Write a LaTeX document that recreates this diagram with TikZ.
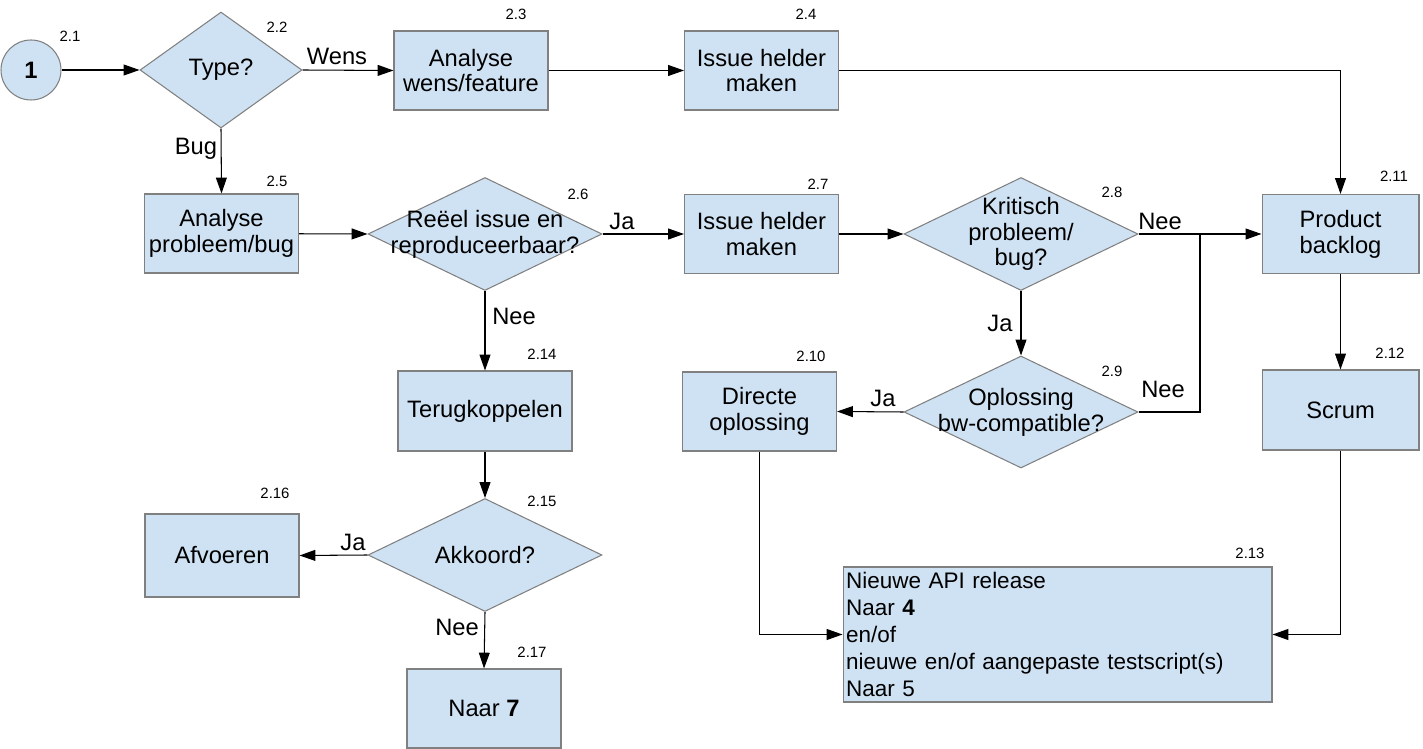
\documentclass[tikz,border=0pt]{standalone}
\usepackage{fontspec}
\setmainfont{Liberation Sans}
\usetikzlibrary{shapes.geometric}
\usetikzlibrary{arrows.meta}
\definecolor{vakblauw}{RGB}{207,226,243}
\definecolor{vakrand}{RGB}{128,128,128}

\begin{document}
\begin{tikzpicture}[x=0.02cm,y=-0.02cm,
  vak/.style={rectangle,draw=vakrand,fill=vakblauw,line width=0.6pt,minimum width=3.08cm,minimum height=1.58cm,align=center,inner sep=1pt,font=\fontsize{13.5}{14.7}\selectfont},
  keuze/.style={diamond,draw=vakrand,fill=vakblauw,line width=0.6pt,inner sep=0pt,minimum width=4.68cm,minimum height=2.26cm},
  vraag/.style={align=center,font=\fontsize{13.5}{14.7}\selectfont},
  nr/.style={font=\fontsize{8.5}{10}\selectfont,anchor=base},
  antw/.style={font=\fontsize{13.5}{14.7}\selectfont,anchor=base},
  pijl/.style={line width=0.6pt,-{Triangle[length=9pt,width=6.2pt]}},
  lijn/.style={line width=0.6pt}]
\useasboundingbox (0,0) rectangle (1423,749);

% start en wens/feature
\node[circle,draw=vakrand,fill=vakblauw,line width=0.6pt,minimum size=1.2cm,inner sep=0pt,font=\fontsize{13.5}{14.7}\selectfont\bfseries] (start) at (31,70) {1};
\node[keuze,minimum width=3.24cm,minimum height=2.32cm] (type) at (221,70) {};
\node[vraag] at (type.center) {Type?};
\node[vak] (anawens) at (471,70.5) {Analyse\\wens/feature};
\node[vak] (helder1) at (761.5,70.5) {Issue helder\\maken};

% bug
\node[vak] (anabug) at (221.5,233.5) {Analyse\\probleem/bug};
\node[keuze] (reeel) at (485,234) {};
\node[vraag] at (reeel.center) {Reëel issue en\\reproduceerbaar?};
\node[vak] (helder2) at (761.5,234) {Issue helder\\maken};
\node[keuze] (kritisch) at (1021,234) {};
\node[vraag] at (kritisch.center) {Kritisch\\probleem/\\bug?};
\node[keuze,minimum height=2.24cm] (compat) at (1021,412) {};
\node[vraag] at (compat.center) {Oplossing\\bw-compatible?};
\node[vak] (direct) at (759.5,411.5) {Directe\\oplossing};
\node[vak,minimum width=3.14cm] (backlog) at (1340.5,234) {Product\\backlog};
\node[vak,minimum width=3.14cm,minimum height=1.6cm] (scrum) at (1340.5,410) {Scrum};
\node[vak,text width=8.46cm,minimum height=2.7cm,inner sep=0.06cm,align=left,font=\fontsize{12.8}{15.3}\selectfont] (release) at (1057.5,634.5) {%
  Nieuwe API release\\Naar \textbf{4}\\en/of\\nieuwe en/of aangepaste testscript(s)\\Naar 5};

% terugkoppelen
\node[vak,minimum width=3.48cm,minimum height=1.6cm] (terug) at (485,411) {Terugkoppelen};
\node[keuze] (akkoord) at (485,555) {};
\node[vraag] at (akkoord.center) {Akkoord?};
\node[vak,minimum height=1.66cm] (afvoer) at (222,555.5) {Afvoeren};
\node[vak] (naar7) at (484,708.5) {Naar \textbf{7}};

\coordinate (samen) at (1200,234);

% verbindingen
\draw[pijl] (start) -- (type);
\draw[pijl] (type.east) -- (anawens.west);
\draw[pijl] (anawens) -- (helder1);
\draw[pijl] (helder1.east) -| (backlog.north);
\draw[pijl] (type.south) -- (anabug.north);
\draw[pijl] (anabug) -- (reeel.west);
\draw[pijl] (reeel.east) -- (helder2.west);
\draw[pijl] (helder2) -- (kritisch.west);
\draw[pijl] (kritisch.east) -- (backlog.west);
\draw[pijl] (kritisch.south) -- (compat.north);
\draw[lijn] (compat.east) -| (samen);
\draw[pijl] (compat.west) -- (direct.east);
\draw[pijl] (direct.south) |- (release.west);
\draw[pijl] (backlog) -- (scrum);
\draw[pijl] (scrum.south) |- (release.east);
\draw[pijl] (reeel.south) -- (terug.north);
\draw[pijl] (terug) -- (akkoord.north);
\draw[pijl] (akkoord.west) -- (afvoer.east);
\draw[pijl] (akkoord.south) -- (naar7.north);

% antwoorden
\node[antw] at (337,65) {Wens};
\node[antw] at (196,155) {Bug};
\node[antw] at (622,230) {Ja};
\node[antw] at (1160,230) {Nee};
\node[antw] at (1000,332) {Ja};
\node[antw] at (1163,398) {Nee};
\node[antw] at (883,407) {Ja};
\node[antw] at (514,325) {Nee};
\node[antw] at (353,550) {Ja};
\node[antw] at (457,635) {Nee};

% nummers
\node[nr] at (70,42) {2.1};
\node[nr] at (277,33) {2.2};
\node[nr] at (516,20) {2.3};
\node[nr] at (806,20) {2.4};
\node[nr] at (277,187) {2.5};
\node[nr] at (578,200) {2.6};
\node[nr] at (818,190) {2.7};
\node[nr] at (1112,198) {2.8};
\node[nr] at (1112,377) {2.9};
\node[nr] at (811,362) {2.10};
\node[nr] at (1394,182) {2.11};
\node[nr] at (1390,359) {2.12};
\node[nr] at (1250,559) {2.13};
\node[nr] at (542,360) {2.14};
\node[nr] at (542,506) {2.15};
\node[nr] at (275,499) {2.16};
\node[nr] at (532,657) {2.17};
\end{tikzpicture}
\end{document}
